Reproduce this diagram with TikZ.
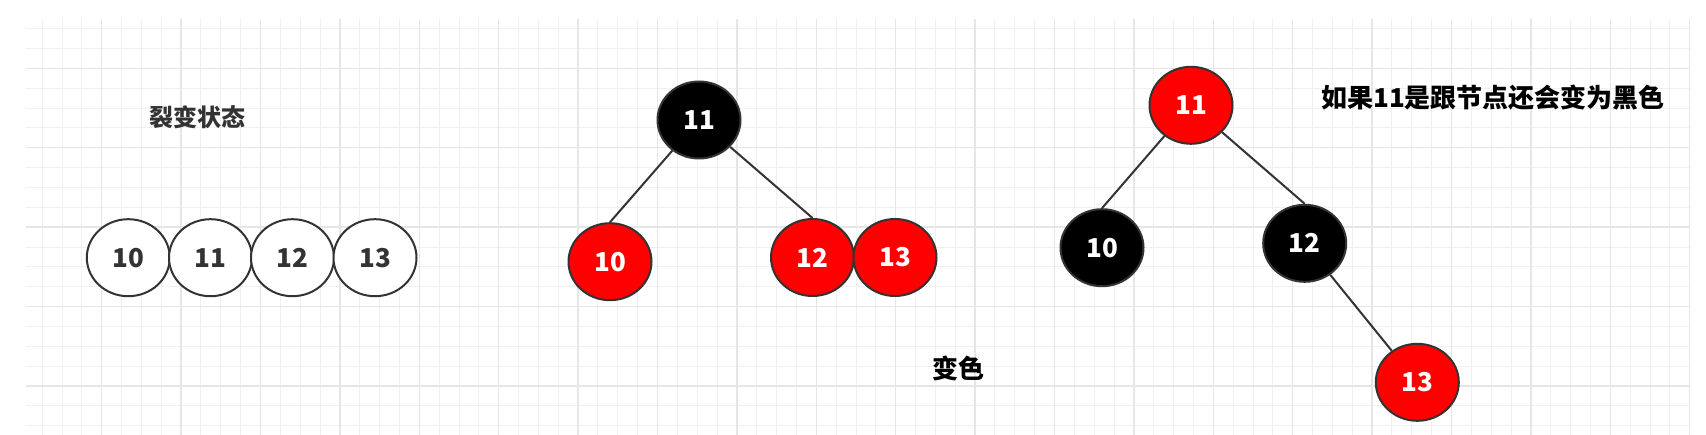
\documentclass[tikz,border=0pt]{standalone}
\usepackage{fontspec}
\setmainfont{Noto Sans CJK SC}
\usetikzlibrary{shapes.geometric}
\definecolor{gminor}{HTML}{F0F0F0}
\definecolor{gmajor}{HTML}{E6E6E6}
\definecolor{edgec}{HTML}{333333}
\definecolor{txtc}{HTML}{333333}
\definecolor{rbred}{HTML}{FF0000}
\tikzset{
  circ/.style={ellipse, minimum width=83pt, minimum height=77pt, inner sep=0pt,
    draw=edgec, line width=2pt, font=\bfseries\fontsize{26}{26}\selectfont},
  plainc/.style={circ, fill=white, text=txtc},
  redc/.style={circ, fill=rbred, text=white},
  blackc/.style={circ, fill=black, text=white},
  link/.style={draw=edgec, line width=2pt},
  label/.style={font=\bfseries\fontsize{26}{26}\selectfont, inner sep=0pt}
}
\begin{document}
\begin{tikzpicture}[x=1pt, y=-1pt]
\useasboundingbox (0,0) rectangle (1706,435);
\fill[white] (0,0) rectangle (1706,435);
\begin{scope}
\clip (26,19) rectangle (1690,435);
\foreach \i in {0,...,84} {
  \draw[gminor, line width=1pt] ({22.3+19.85*\i},19) -- ({22.3+19.85*\i},435);
}
\foreach \i in {0,...,21} {
  \draw[gminor, line width=1pt] (26,{8.9+19.85*\i}) -- (1690,{8.9+19.85*\i});
}
\foreach \i in {0,...,21} {
  \draw[gmajor, line width=1.3pt] ({22.3+79.4*\i},19) -- ({22.3+79.4*\i},435);
}
\foreach \i in {0,...,5} {
  \draw[gmajor, line width=1.3pt] (26,{68.3+79.4*\i}) -- (1690,{68.3+79.4*\i});
}
\end{scope}

% left: split state
\node[label, text=txtc, font=\bfseries\fontsize{24}{24}\selectfont] (t1) at (197,117) {裂变状态};
\node[plainc] (a10) at (128.3,257.7) {10};
\node[plainc] (a11) at (210.5,257.7) {11};
\node[plainc] (a12) at (292.5,257.7) {12};
\node[plainc] (a13) at (375,257.7) {13};

% middle tree
\node[blackc] (b11) at (699,120) {11};
\node[redc] (b10) at (610,261.7) {10};
\node[redc] (b12) at (812.5,257.5) {12};
\node[redc] (b13) at (895,257.5) {13};
\draw[link] (b11) -- (b10.north);
\draw[link] (b11) -- (b12.north);
\node[label, text=black] (t2) at (958.5,368) {变色};

% right tree
\node[redc] (c11) at (1191,105.3) {11};
\node[blackc] (c10) at (1102,247.7) {10};
\node[blackc] (c12) at (1304.7,243.3) {12};
\node[redc] (c13) at (1417.3,382.3) {13};
\draw[link] (c11) -- (c10.north);
\draw[link] (c11) -- (c12.north);
\draw[link] (c12) -- (c13);
\node[label, text=black, anchor=west] (t3) at (1321,98) {如果11是跟节点还会变为黑色};
\end{tikzpicture}
\end{document}
